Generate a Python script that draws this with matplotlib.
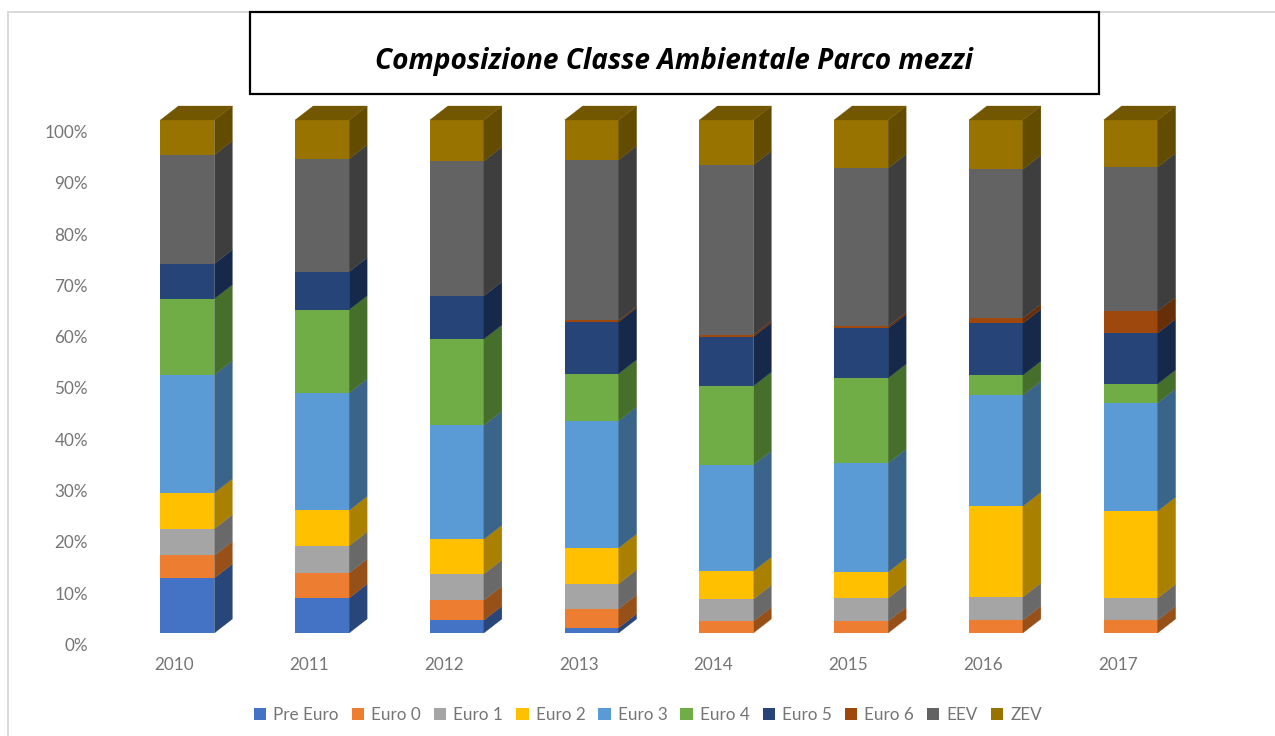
import numpy as np
import matplotlib
matplotlib.use("Agg")
import matplotlib.pyplot as plt
from matplotlib import font_manager as fm
from matplotlib.patches import Polygon, Rectangle, Patch
from matplotlib.lines import Line2D
from matplotlib.transforms import ScaledTranslation

years = ["2010", "2011", "2012", "2013", "2014", "2015", "2016", "2017"]
series = ["Pre Euro", "Euro 0", "Euro 1", "Euro 2", "Euro 3", "Euro 4", "Euro 5", "Euro 6", "EEV", "ZEV"]

pre_euro = [10.7, 6.8, 2.5, 1.0, 0, 0, 0, 0]
euro_0 = [4.4, 4.9, 3.9, 3.7, 2.3, 2.3, 2.5, 2.5]
euro_1 = [5.2, 5.3, 5.1, 4.9, 4.3, 4.5, 4.5, 4.3]
euro_2 = [7.0, 6.9, 6.8, 7.0, 5.5, 5.1, 17.7, 17.0]
euro_3 = [23.0, 22.9, 22.2, 24.8, 20.7, 21.2, 21.6, 21.1]
euro_4 = [14.8, 16.2, 16.8, 9.2, 15.4, 16.6, 3.9, 3.7]
euro_5 = [6.8, 7.4, 8.4, 10.1, 9.6, 9.7, 10.1, 9.9]
euro_6 = [0, 0, 0, 0.3, 0.4, 0.4, 1.0, 4.3]
eev = [21.2, 22.0, 26.3, 31.3, 33.1, 30.8, 29.0, 28.1]
zev = [6.8, 7.6, 8.0, 7.8, 8.8, 9.4, 9.6, 9.2]
data = np.array([pre_euro, euro_0, euro_1, euro_2, euro_3, euro_4, euro_5, euro_6, eev, zev], dtype=float)
data = data / data.sum(axis=0) * 100

front = ["#4472C4", "#ED7D31", "#A5A5A5", "#FFC000", "#5B9BD5", "#70AD47", "#264478", "#9E480E", "#636363", "#997300"]
side = ["#284679", "#985019", "#696969", "#A98000", "#3A6489", "#476F2C", "#17294B", "#662E09", "#3E3E3E", "#634B00"]
top_color = "#735700"

W, H = 1275, 736
plt.rcParams["font.family"] = ["Lato", "DejaVu Sans"]
fig = plt.figure(figsize=(W / 100, H / 100), dpi=100, facecolor="white")

# chart frame (runs off the right and bottom of the picture)
fr = dict(color="#d9d9d9", lw=1.4, transform=fig.transFigure)
fig.add_artist(Line2D([8 / W, 8 / W], [0, 1 - 12 / H], **fr))
fig.add_artist(Line2D([8 / W, 1], [1 - 12 / H, 1 - 12 / H], **fr))

L, R, T, B = 120.0, 1198.0, 120.0, 633.0
ax = fig.add_axes([L / W, 1 - B / H, (R - L) / W, (B - T) / H])
ax.set_xlim(-0.5, 7.5)
ax.set_ylim(0, 100)
ax.patch.set_alpha(0)
for s in ax.spines.values():
    s.set_visible(False)

bar_w = 54 / 134.7
dx = 18 / 134.7
dy = 14 / 5.13
x = np.arange(len(years))

bottom = np.zeros(len(years))
for k, name in enumerate(series):
    ax.bar(x, data[k], bar_w, bottom=bottom, color=front[k], linewidth=0, clip_on=False, zorder=3)
    for i in x:
        if data[k][i] <= 0:
            continue
        xr = i + bar_w / 2
        y0, y1 = bottom[i], bottom[i] + data[k][i]
        ax.add_patch(Polygon([(xr, y0), (xr + dx, y0 + dy), (xr + dx, y1 + dy), (xr, y1)],
                             closed=True, facecolor=side[k], edgecolor=side[k], lw=0.2,
                             clip_on=False, zorder=3))
    bottom = bottom + data[k]

for i in x:
    xl, xr = i - bar_w / 2, i + bar_w / 2
    yt = bottom[i]
    ax.add_patch(Polygon([(xl, yt), (xr, yt), (xr + dx, yt + dy), (xl + dx, yt + dy)],
                         closed=True, facecolor=top_color, edgecolor=top_color, lw=0.2,
                         clip_on=False, zorder=3))

ax.set_yticks(np.arange(0, 101, 10))
ax.set_yticklabels([f"{v}%" for v in range(0, 101, 10)])
ax.set_xticks(x)
ax.set_xticklabels(years)
ax.tick_params(axis="both", length=0, labelsize=12.3, labelcolor="#757575")
ax.tick_params(axis="y", pad=23)
ax.tick_params(axis="x", pad=17.5)
for t in ax.get_yticklabels():
    t.set_transform(t.get_transform() + ScaledTranslation(0, -11.5 / 100, fig.dpi_scale_trans))
for t in ax.get_xticklabels():
    t.set_transform(t.get_transform() + ScaledTranslation(-13 / 100, 0, fig.dpi_scale_trans))

handles = [Patch(facecolor=c, edgecolor="none") for c in front]
fig.legend(handles, series, loc="center", bbox_to_anchor=(648 / W, 1 - 715 / H), ncol=10,
           frameon=False, fontsize=12.3, labelcolor="#757575", handlelength=0.72, handleheight=0.72,
           handletextpad=0.42, columnspacing=0.755)

# title box
fig.add_artist(Rectangle((250 / W, 1 - 94 / H), 849 / W, 82 / H, transform=fig.transFigure,
                         facecolor="white", edgecolor="black", lw=1.6, zorder=5))
files = [f.fname for f in fm.fontManager.ttflist
         if f.name == "Open Sans" and f.style == "italic" and f.weight == 700 and f.stretch == "normal"]
title_font = (fm.FontProperties(fname=files[0]) if files
              else fm.FontProperties(family="Open Sans", style="italic", weight="bold"))
title_font.set_size(20.2)
fig.text(674 / W, 1 - 61 / H, "Composizione Classe Ambientale Parco mezzi", ha="center", va="center",
         fontproperties=title_font, color="black", zorder=6)

fig.savefig("out.png", dpi=100)
